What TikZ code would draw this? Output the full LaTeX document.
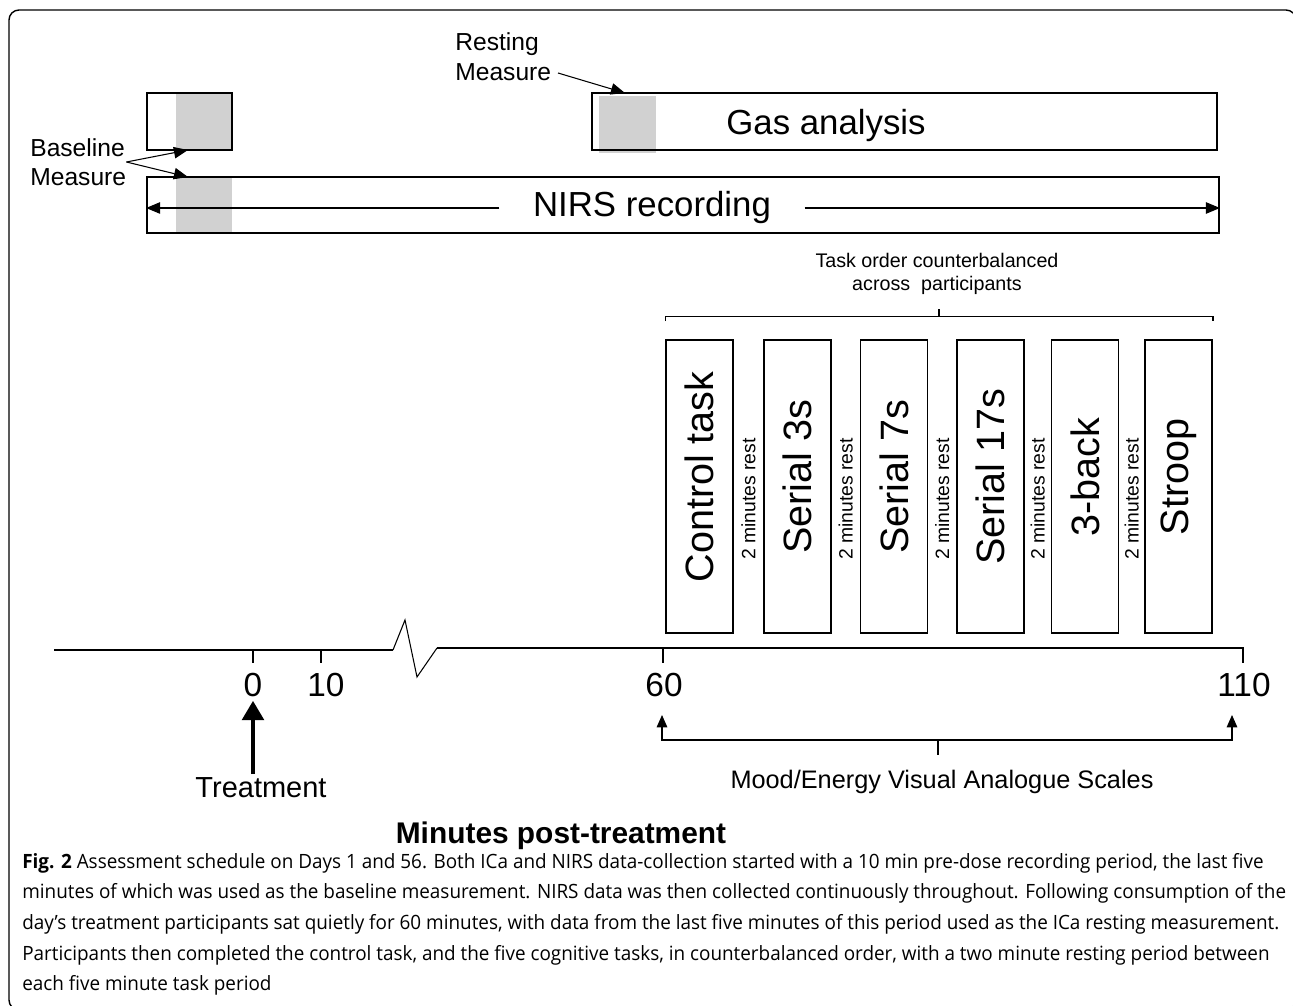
\documentclass[tikz,border=0pt]{standalone}
\usepackage{fontspec}
\setmainfont{Liberation Sans}
\newfontfamily\capfont[FakeStretch=0.96]{Open Sans}
\usetikzlibrary{arrows.meta,fit,calc,positioning}
\definecolor{measgray}{gray}{0.82}
\tikzset{
  box/.style={draw, line width=1.1pt, inner sep=0pt},
  taskbox/.style={draw, line width=1.1pt, minimum width={67*0.2mm}, minimum height={293*0.2mm}, inner sep=0pt},
  tasklbl/.style={rotate=90, font=\fontsize{22.5}{27}\selectfont},
  restlbl/.style={rotate=90, font=\fontsize{11}{13}\selectfont},
  numlbl/.style={inner sep=2pt, font=\fontsize{19}{22}\selectfont},
  axisline/.style={line width=1.1pt},
  thinline/.style={line width=0.6pt},
  arr/.style={-{Triangle[length=8pt,width=6.5pt]}, line width=0.6pt},
  dblarr/.style={{Triangle[length=7pt,width=6pt]}-{Triangle[length=7pt,width=6pt]}, line width=0.6pt},
  bigarr/.style={-{Triangle[length=11pt,width=12pt]}, line width=2.8pt},
}
\begin{document}
\begin{tikzpicture}[x=0.2mm,y=-0.2mm]
\useasboundingbox (0,0) rectangle (1293,1006);
\draw[line width=0.8pt, rounded corners=2mm] (9,10) rectangle (1296,1010);
% gas analysis and NIRS bars
\fill[measgray] (176,93) rectangle (232,150);
\node[box, fit={(147,93) (232,150)}] (pre) {};
\fill[measgray] (599,96) rectangle (656,153);
\node[box, fit={(592,93) (1217,150)}] (gas) {};
\node[font=\fontsize{19.8}{24}\selectfont] (gaslbl) at (826,126) {Gas analysis};
\fill[measgray] (176,177) rectangle (232,233);
\node[box, fit={(147,177) (1219,233)}] (nirs) {};
\node[font=\fontsize{19.8}{24}\selectfont, inner xsep=19pt] (nirslbl) at (652,208) {NIRS recording};
\draw[arr] (nirslbl.west) -- (nirslbl.west -| nirs.west);
\draw[arr] (nirslbl.east) -- (nirslbl.east -| nirs.east);
\node[font=\fontsize{14}{16.5}\selectfont, align=left, anchor=west, inner sep=0pt] (basetxt) at (30,162) {Baseline\\Measure};
\coordinate (bt1) at (188,150);
\coordinate (bt2) at (188,177);
\draw[arr] (basetxt.east) -- (bt1);
\draw[arr] (basetxt.east) -- (bt2);
\node[font=\fontsize{14}{17}\selectfont, align=left, anchor=west, inner sep=0pt] (resttxt) at (455,57) {Resting\\Measure};
\coordinate (rsrc) at (558,73);
\coordinate (rtip) at (625,93);
\draw[arr] (rsrc) -- (rtip);
% tasks
\foreach \x/\name/\lbl in {699.5/t1/Control task, 797.5/t2/Serial 3s, 894/t3/Serial 7s, 990.5/t4/Serial 17s, 1085/t5/3-back, 1178.5/t6/Stroop} {
  \node[taskbox] (\name) at (\x,486.5) {};
  \node[tasklbl] at ([yshift=1.9mm]\name.center) {\lbl};
}
\foreach \a/\b in {t1/t2,t2/t3,t3/t4,t4/t5,t5/t6}
  \node[restlbl] at ($(\a.east)!0.5!(\b.west)+(0,12.5)$) {2 minutes rest};
\node[font=\fontsize{11.2}{13}\selectfont, align=center] (order) at (937,274) {Task order counterbalanced\\across\ \ participants};
\draw[thinline] ([yshift=3.6mm]t1.north west) -- ([yshift=4.6mm]t1.north west) -- ([yshift=4.6mm]t6.north east) -- ([yshift=3.6mm]t6.north east);
\draw[thinline] ($(t1.north west)!0.5!(t6.north east)+(0,-23)$) -- ++(0,-7);
% time axis
\draw[axisline] (54,650) -- (393,650);
\draw[thinline] (393,650) -- (405,620) -- (417,677) -- (437,648);
\draw[axisline] (437,648) -- (1243,648) -- (1243,663);
\draw[axisline] (253,650) -- (253,663);
\draw[axisline] (321,650) -- (321,663);
\draw[axisline] (663,648) -- (663,663);
\node[numlbl] (n0) at (253,685) {0};
\node[numlbl] (n10) at (326,685) {10};
\node[numlbl] (n60) at (664,685) {60};
\node[numlbl] (n110) at (1244,685) {110};
\node[inner sep=2pt, font=\fontsize{16.5}{20}\selectfont] (treat) at (261,788) {Treatment};
\draw[bigarr] (n0.south |- treat.north) -- (n0.south);
\coordinate (a60) at (662,715);
\coordinate (a110) at (1232,715);
\draw[dblarr] (a60) -- ++(0,25) -| (a110);
\draw[thinline] (938,740) -- (938,755);
\node[font=\fontsize{14.4}{17}\selectfont] (mood) at (942,782) {Mood/Energy Visual Analogue Scales};
\node[font=\bfseries\fontsize{17}{20}\selectfont] (xlabel) at (561,836) {Minutes post-treatment};
% caption
\node[anchor=north west, align=left, inner sep=0pt, font=\capfont\fontsize{11.2}{17.4}\selectfont] (cap) at (22,853) {\textbf{Fig. 2} Assessment schedule on Days 1 and 56. Both ICa and NIRS data-collection started with a 10 min pre-dose recording period, the last five\\
minutes of which was used as the baseline measurement. NIRS data was then collected continuously throughout. Following consumption of the\\
day’s treatment participants sat quietly for 60 minutes, with data from the last five minutes of this period used as the ICa resting measurement.\\
Participants then completed the control task, and the five cognitive tasks, in counterbalanced order, with a two minute resting period between\\
each five minute task period};
\end{tikzpicture}
\end{document}
